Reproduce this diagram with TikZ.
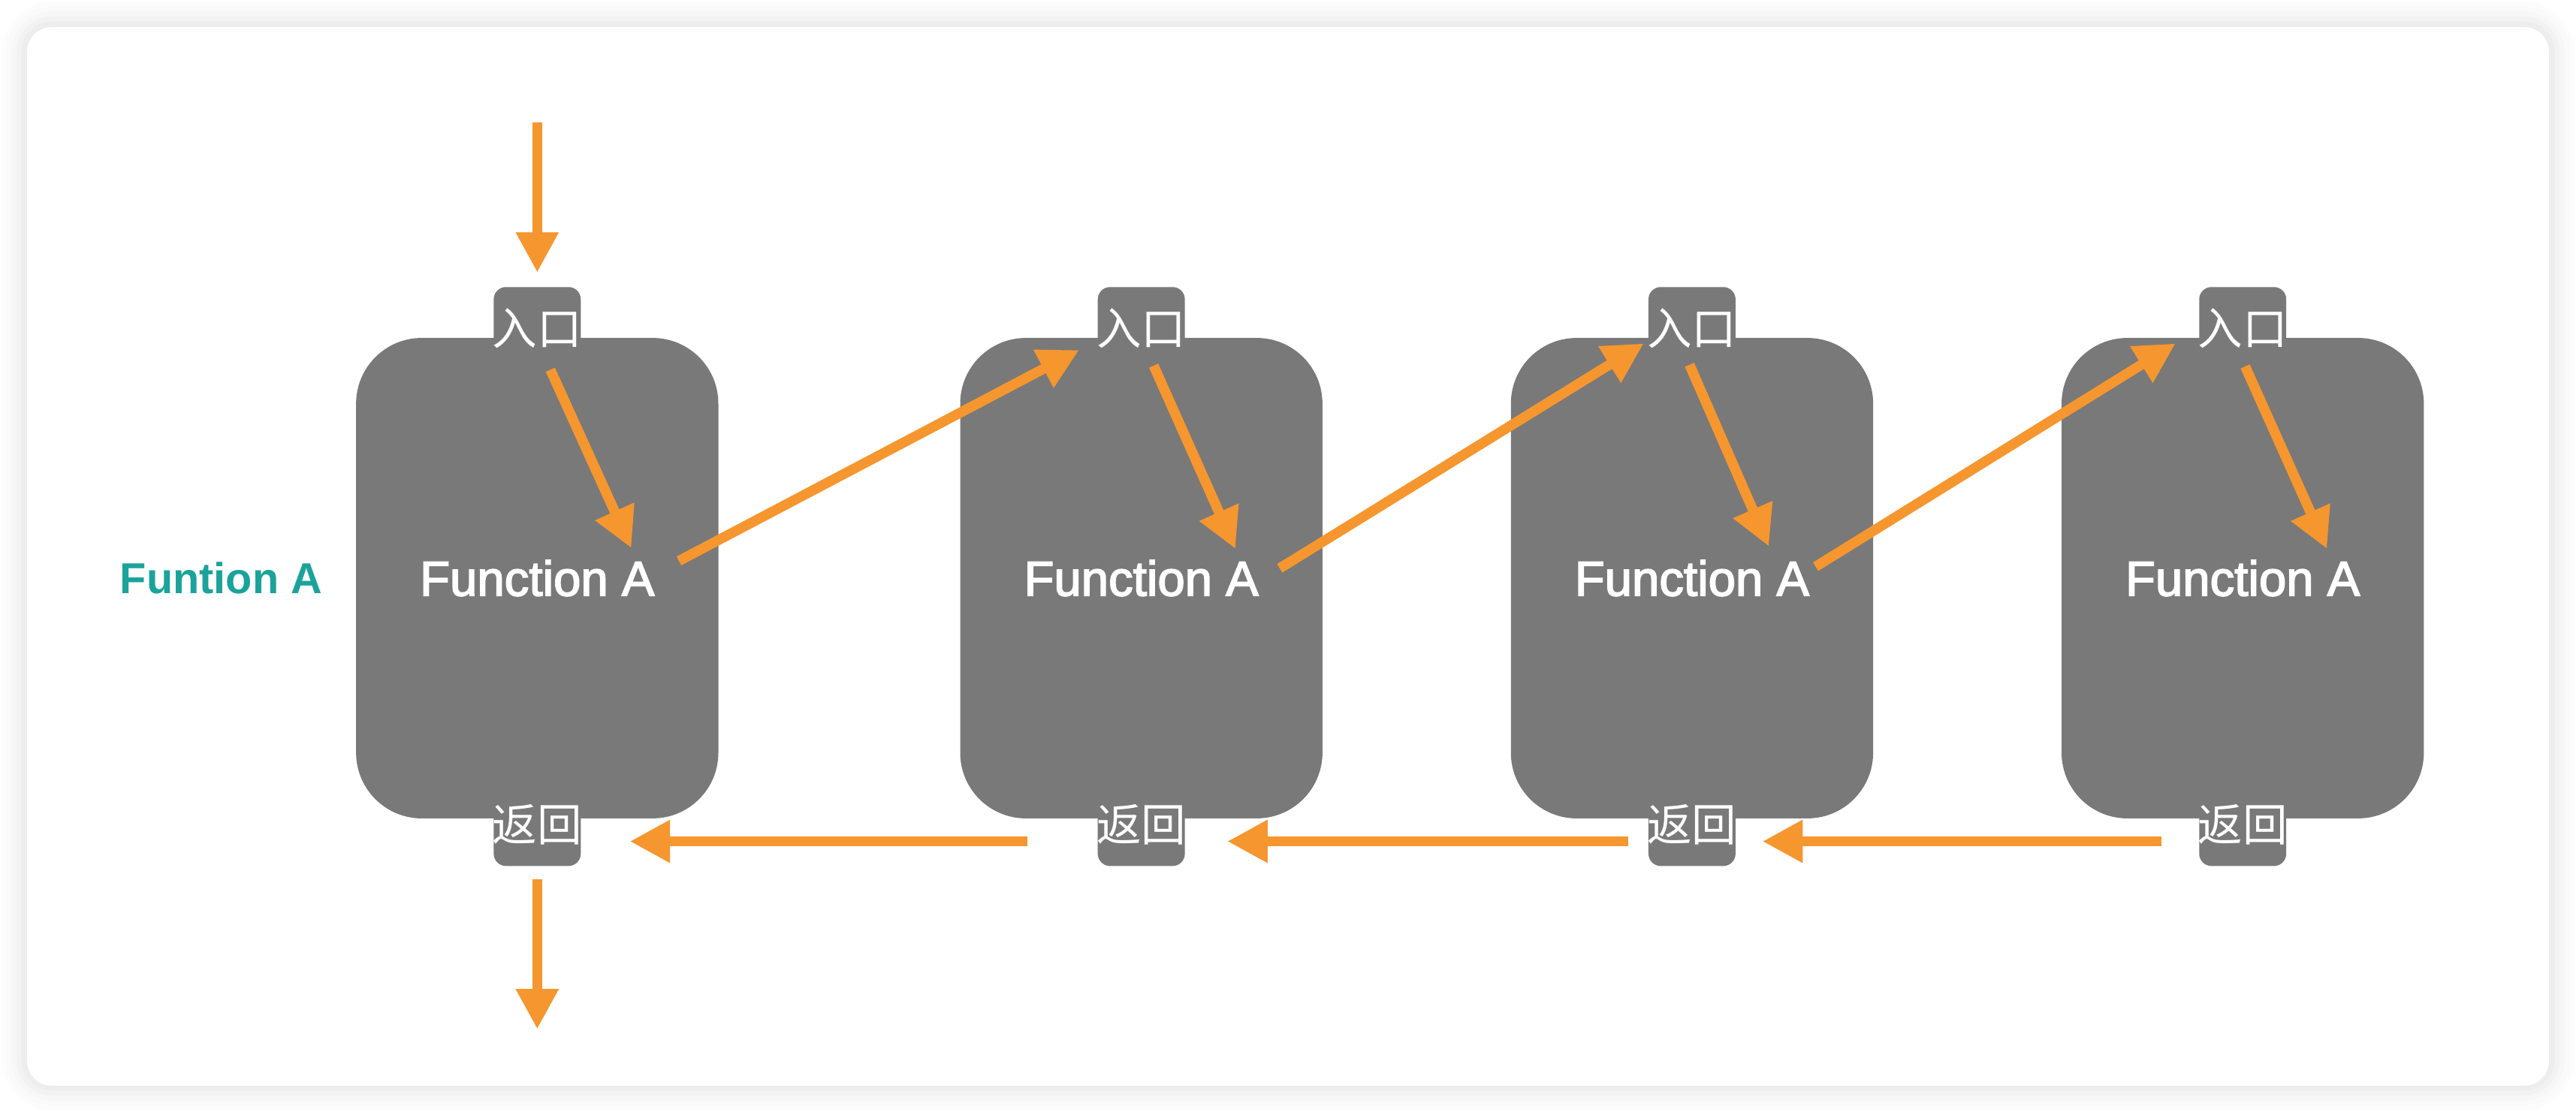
\documentclass[tikz,border=0pt]{standalone}
\usepackage{fontspec}
\setmainfont{Liberation Sans}
\newfontfamily\cjk{Noto Sans CJK SC}
\newfontfamily\fnfont{Liberation Sans}[UprightFeatures={FakeBold=2.5}]
\usepackage{tikz}
\usetikzlibrary{arrows.meta,positioning}
\definecolor{FnGray}{HTML}{797979}
\definecolor{ArrOrange}{HTML}{F6962F}
\definecolor{LblTeal}{HTML}{1BA39B}
\tikzset{
  fn/frame/.style={fill=FnGray, rounded corners=0.8cm, minimum width=4.41cm, minimum height=5.85cm, inner sep=0pt},
  fn/name/.style={text=white, inner sep=0pt, font=\fnfont\fontsize{17}{20}\selectfont},
  fn/port/.style={fill=FnGray, rounded corners=0.15cm, minimum width=1.06cm, minimum height=1cm, inner ysep=0pt, inner xsep=-0.02cm, text=white, font=\cjk\fontsize{15.5}{17}\selectfont},
  fn/label/.style={text=LblTeal, inner sep=0pt, font=\bfseries\fontsize{15}{18}\selectfont},
  arr/.style={-{Triangle[length=4.9mm,width=4.9mm]}, line width=1.22mm, draw=ArrOrange}
}

\begin{document}
\begin{tikzpicture}
\useasboundingbox (0,0) rectangle (31.36,-13.54);
% card and its soft shadow
\fill[black!1, rounded corners=0.62cm] (0.02,-0.02) rectangle (31.34,-13.52);
\fill[black!2, rounded corners=0.56cm] (0.08,-0.08) rectangle (31.28,-13.46);
\fill[black!3, rounded corners=0.50cm] (0.14,-0.14) rectangle (31.22,-13.40);
\fill[black!5, rounded corners=0.44cm] (0.20,-0.20) rectangle (31.16,-13.34);
\fill[black!7, rounded corners=0.38cm] (0.26,-0.26) rectangle (31.10,-13.28);
\fill[white, rounded corners=0.3cm] (0.33,-0.33) rectangle (31.03,-13.22);

\node[fn/frame] (f1) at (6.54,-7.04) {};
\node[fn/frame, right=29.3mm of f1] (f2) {};
\node[fn/frame, right=22.8mm of f2] (f3) {};
\node[fn/frame, right=22.8mm of f3] (f4) {};

\node[fn/name] (t1) at (f1) {Function A};
\node[fn/name] (t2) at (f2) {Function A};
\node[fn/name] (t3) at (f3) {Function A};
\node[fn/name] (t4) at (f4) {Function A};

\node[fn/port, anchor=north] (in1) at ([yshift=6.2mm]f1.north) {入口};
\node[fn/port, anchor=north] (in2) at ([yshift=6.2mm]f2.north) {入口};
\node[fn/port, anchor=north] (in3) at ([yshift=6.2mm]f3.north) {入口};
\node[fn/port, anchor=north] (in4) at ([yshift=6.2mm]f4.north) {入口};

\node[fn/port, anchor=south] (ret1) at ([yshift=-5.8mm]f1.south) {返回};
\node[fn/port, anchor=south] (ret2) at ([yshift=-5.8mm]f2.south) {返回};
\node[fn/port, anchor=south] (ret3) at ([yshift=-5.8mm]f3.south) {返回};
\node[fn/port, anchor=south] (ret4) at ([yshift=-5.8mm]f4.south) {返回};

\node[fn/label, left=4mm of f1] (lbl) {Funtion A};

% call in and return out
\coordinate (entry) at ([yshift=20mm]in1.north);
\coordinate (exit) at ([yshift=-19.8mm]ret1.south);
\draw[arr] (entry) -- ([yshift=1.7mm]in1.north);
\draw[arr] ([yshift=-1.5mm]ret1.south) -- (exit);

% entry to body
\draw[arr] ([shift={(0.16,0)}]in1.south) -- ([shift={(-0.29,0.14)}]t1.north east);
\draw[arr] ([shift={(0.15,0.05)}]in2.south) -- ([shift={(-0.29,0.13)}]t2.north east);
\draw[arr] ([shift={(-0.03,0.06)}]in3.south) -- ([shift={(-0.5,0.16)}]t3.north east);
\draw[arr] ([shift={(0.03,0.04)}]in4.south) -- ([shift={(-0.41,0.13)}]t4.north east);

% recursive calls
\draw[arr] ([shift={(0.29,0.21)}]t1.east) -- ([shift={(-0.22,0.24)}]in2.south west);
\draw[arr] ([shift={(0.25,0.12)}]t2.east) -- ([shift={(-0.05,0.32)}]in3.south west);
\draw[arr] ([shift={(0.07,0.14)}]t3.east) -- ([shift={(-0.28,0.32)}]in4.south west);

% returns
\draw[arr] ([shift={(-0.85,-0.2)}]ret2.west) -- ([shift={(0.59,-0.2)}]ret1.east);
\draw[arr] ([shift={(-0.24,-0.2)}]ret3.west) -- ([shift={(0.51,-0.2)}]ret2.east);
\draw[arr] ([shift={(-0.45,-0.2)}]ret4.west) -- ([shift={(0.32,-0.2)}]ret3.east);
\end{tikzpicture}
\end{document}
